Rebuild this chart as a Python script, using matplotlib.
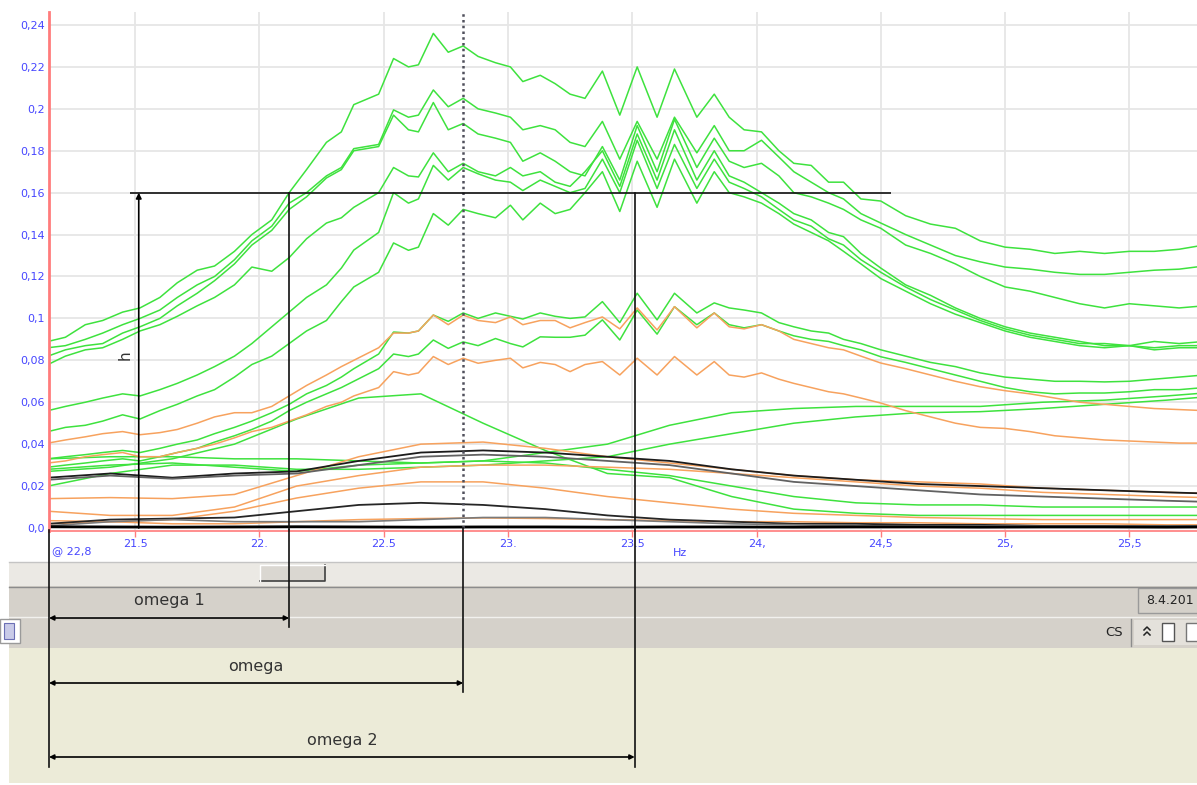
import matplotlib.pyplot as plt
from matplotlib.patches import Rectangle
from matplotlib.transforms import blended_transform_factory

# frequency grid (Hz) for the jagged traces
freq = [21.15, 21.22, 21.30, 21.37, 21.45, 21.52, 21.60, 21.67, 21.75, 21.82, 21.90, 21.97, 22.05,
        22.12, 22.19, 22.27, 22.33, 22.38, 22.48, 22.54, 22.60, 22.64, 22.70, 22.76, 22.82,
        22.88, 22.95, 23.01, 23.06, 23.13, 23.19, 23.25, 23.31, 23.38, 23.45, 23.52,
        23.60, 23.67, 23.76, 23.83, 23.89, 23.95, 24.02, 24.09, 24.15, 24.22, 24.29, 24.35, 24.42,
        24.50, 24.60, 24.70, 24.80, 24.90, 25.00, 25.10, 25.20, 25.30, 25.40, 25.50, 25.60, 25.70, 25.80]

green_1 = [0.089, 0.091, 0.097, 0.099, 0.103, 0.105, 0.110, 0.117, 0.123, 0.125, 0.132, 0.140, 0.147,
           0.160, 0.171, 0.184, 0.189, 0.202, 0.207, 0.224, 0.220, 0.221, 0.236, 0.227, 0.230,
           0.225, 0.222, 0.220, 0.213, 0.216, 0.212, 0.207, 0.205, 0.218, 0.197, 0.220,
           0.196, 0.219, 0.196, 0.207, 0.196, 0.190, 0.189, 0.180, 0.174, 0.173, 0.165, 0.165, 0.157,
           0.156, 0.149, 0.145, 0.143, 0.137, 0.134, 0.133, 0.131, 0.132, 0.131, 0.132, 0.132, 0.133, 0.135]
green_2 = [0.086, 0.087, 0.090, 0.093, 0.097, 0.100, 0.104, 0.110, 0.116, 0.120, 0.128, 0.137, 0.144,
           0.155, 0.160, 0.168, 0.172, 0.181, 0.183, 0.1995, 0.196, 0.197, 0.209, 0.201, 0.205,
           0.200, 0.198, 0.196, 0.190, 0.192, 0.190, 0.184, 0.182, 0.194, 0.176, 0.194,
           0.176, 0.196, 0.179, 0.192, 0.180, 0.180, 0.185, 0.177, 0.170, 0.165, 0.160, 0.157, 0.150,
           0.1455, 0.140, 0.135, 0.130, 0.127, 0.1245, 0.1235, 0.122, 0.121, 0.121, 0.122, 0.123, 0.1235, 0.125]
green_3 = [0.082, 0.085, 0.087, 0.088, 0.093, 0.096, 0.100, 0.106, 0.112, 0.118, 0.126, 0.135, 0.142,
           0.152, 0.158, 0.167, 0.171, 0.180, 0.182, 0.197, 0.190, 0.189, 0.203, 0.190, 0.193,
           0.188, 0.186, 0.184, 0.175, 0.179, 0.175, 0.170, 0.168, 0.182, 0.166, 0.192,
           0.170, 0.195, 0.172, 0.186, 0.175, 0.172, 0.174, 0.168, 0.160, 0.158, 0.155, 0.152, 0.147,
           0.143, 0.135, 0.131, 0.126, 0.120, 0.115, 0.113, 0.110, 0.107, 0.105, 0.107, 0.106, 0.105, 0.106]
green_4 = [0.078, 0.082, 0.085, 0.086, 0.090, 0.094, 0.097, 0.101, 0.106, 0.110, 0.116, 0.1245, 0.1225,
           0.129, 0.138, 0.1455, 0.148, 0.153, 0.160, 0.172, 0.168, 0.1675, 0.179, 0.170, 0.174,
           0.170, 0.168, 0.172, 0.168, 0.170, 0.165, 0.163, 0.170, 0.180, 0.163, 0.188,
           0.166, 0.190, 0.166, 0.180, 0.168, 0.165, 0.160, 0.155, 0.150, 0.147, 0.141, 0.139, 0.131,
           0.124, 0.116, 0.111, 0.105, 0.100, 0.096, 0.093, 0.091, 0.089, 0.087, 0.087, 0.089, 0.088, 0.089]
green_5 = [0.056, 0.058, 0.060, 0.062, 0.064, 0.063, 0.066, 0.069, 0.073, 0.077, 0.082, 0.088, 0.096,
           0.103, 0.110, 0.116, 0.124, 0.1326, 0.141, 0.160, 0.155, 0.157, 0.173, 0.166, 0.172,
           0.169, 0.166, 0.165, 0.161, 0.166, 0.163, 0.160, 0.162, 0.176, 0.160, 0.185,
           0.162, 0.183, 0.162, 0.176, 0.165, 0.162, 0.158, 0.152, 0.147, 0.144, 0.138, 0.135, 0.128,
           0.122, 0.115, 0.109, 0.104, 0.099, 0.095, 0.092, 0.090, 0.088, 0.088, 0.087, 0.086, 0.087, 0.087]
green_6 = [0.046, 0.048, 0.049, 0.051, 0.054, 0.052, 0.056, 0.059, 0.063, 0.066, 0.072, 0.078, 0.082,
           0.088, 0.094, 0.099, 0.108, 0.115, 0.122, 0.136, 0.1325, 0.134, 0.150, 0.1445, 0.152,
           0.150, 0.148, 0.154, 0.147, 0.155, 0.150, 0.152, 0.160, 0.170, 0.151, 0.175,
           0.153, 0.176, 0.155, 0.170, 0.160, 0.158, 0.155, 0.150, 0.145, 0.141, 0.137, 0.132, 0.126,
           0.119, 0.113, 0.107, 0.102, 0.098, 0.094, 0.091, 0.089, 0.087, 0.086, 0.087, 0.085, 0.086, 0.086]
green_7 = [0.033, 0.034, 0.035, 0.036, 0.037, 0.036, 0.038, 0.040, 0.042, 0.045, 0.048, 0.051, 0.055,
           0.059, 0.064, 0.068, 0.072, 0.076, 0.083, 0.0935, 0.093, 0.094, 0.1016, 0.0986, 0.1026,
           0.100, 0.1026, 0.101, 0.0997, 0.1026, 0.101, 0.100, 0.1007, 0.108, 0.098, 0.112,
           0.0993, 0.112, 0.1026, 0.1074, 0.105, 0.104, 0.1026, 0.098, 0.096, 0.094, 0.093, 0.090, 0.088,
           0.085, 0.082, 0.079, 0.077, 0.074, 0.072, 0.071, 0.070, 0.070, 0.0697, 0.070, 0.071, 0.072, 0.073]
green_8 = [0.029, 0.030, 0.031, 0.032, 0.033, 0.032, 0.034, 0.036, 0.038, 0.041, 0.044, 0.047, 0.051,
           0.056, 0.060, 0.064, 0.067, 0.070, 0.076, 0.083, 0.0818, 0.083, 0.0897, 0.0857, 0.0888,
           0.087, 0.0904, 0.088, 0.0864, 0.0912, 0.091, 0.091, 0.092, 0.0993, 0.0897, 0.104,
           0.0925, 0.1056, 0.097, 0.1026, 0.097, 0.0955, 0.097, 0.094, 0.0917, 0.090, 0.089, 0.087, 0.085,
           0.0817, 0.079, 0.076, 0.073, 0.070, 0.067, 0.065, 0.064, 0.0644, 0.0644, 0.065, 0.066, 0.066, 0.067]
orange_1 = [0.0405, 0.042, 0.0435, 0.045, 0.046, 0.0445, 0.0455, 0.047, 0.050, 0.053, 0.055, 0.055, 0.058,
            0.063, 0.068, 0.073, 0.077, 0.080, 0.086, 0.093, 0.093, 0.094, 0.1016, 0.097, 0.1016,
            0.099, 0.098, 0.1007, 0.097, 0.099, 0.099, 0.0955, 0.098, 0.1007, 0.095, 0.105,
            0.0945, 0.1056, 0.0955, 0.1026, 0.096, 0.095, 0.097, 0.094, 0.090, 0.088, 0.086, 0.085, 0.082,
            0.0787, 0.076, 0.073, 0.070, 0.0674, 0.0655, 0.064, 0.062, 0.060, 0.059, 0.058, 0.057, 0.0565, 0.056]
orange_2 = [0.031, 0.032, 0.034, 0.035, 0.036, 0.034, 0.034, 0.036, 0.038, 0.040, 0.043, 0.046, 0.048,
            0.051, 0.054, 0.058, 0.060, 0.063, 0.067, 0.0746, 0.073, 0.074, 0.0818, 0.078, 0.081,
            0.0786, 0.080, 0.081, 0.0764, 0.079, 0.078, 0.0746, 0.078, 0.0794, 0.073, 0.081,
            0.073, 0.0818, 0.073, 0.0794, 0.073, 0.072, 0.074, 0.071, 0.069, 0.067, 0.065, 0.064, 0.062,
            0.0596, 0.056, 0.053, 0.050, 0.048, 0.0475, 0.046, 0.044, 0.043, 0.042, 0.0415, 0.041, 0.0405, 0.0405]

# coarser grid for the smooth low traces
freq_low = [21.15, 21.4, 21.65, 21.9, 22.15, 22.4, 22.65, 22.9, 23.15, 23.4,
            23.65, 23.9, 24.15, 24.4, 24.65, 24.9, 25.15, 25.4, 25.65, 25.8]

green_9 = [0.027, 0.029, 0.033, 0.040, 0.052, 0.062, 0.064, 0.050, 0.037, 0.026,
           0.024, 0.015, 0.009, 0.007, 0.006, 0.006, 0.006, 0.006, 0.006, 0.006]
green_10 = [0.033, 0.034, 0.034, 0.033, 0.033, 0.032, 0.031, 0.032, 0.036, 0.040,
            0.049, 0.055, 0.057, 0.058, 0.058, 0.058, 0.060, 0.061, 0.063, 0.0644]
green_11 = [0.020, 0.026, 0.030, 0.030, 0.028, 0.028, 0.029, 0.030, 0.032, 0.034,
            0.040, 0.045, 0.050, 0.053, 0.055, 0.0555, 0.057, 0.059, 0.061, 0.0625]
green_12 = [0.028, 0.030, 0.031, 0.029, 0.027, 0.030, 0.031, 0.032, 0.031, 0.028,
            0.025, 0.020, 0.015, 0.012, 0.011, 0.011, 0.010, 0.010, 0.010, 0.010]
orange_3 = [0.014, 0.0145, 0.014, 0.016, 0.025, 0.034, 0.040, 0.041, 0.038, 0.034,
            0.031, 0.028, 0.025, 0.023, 0.022, 0.021, 0.019, 0.018, 0.017, 0.0165]
orange_4 = [0.008, 0.006, 0.006, 0.010, 0.020, 0.025, 0.029, 0.030, 0.030, 0.029,
            0.028, 0.026, 0.024, 0.022, 0.020, 0.019, 0.017, 0.016, 0.015, 0.0145]
orange_5 = [0.0035, 0.003, 0.004, 0.008, 0.0143, 0.019, 0.022, 0.022, 0.019, 0.015,
            0.012, 0.009, 0.007, 0.006, 0.005, 0.0045, 0.004, 0.004, 0.004, 0.004]
orange_6 = [0.002, 0.003, 0.002, 0.002, 0.003, 0.004, 0.0045, 0.0048, 0.0045, 0.004,
            0.0035, 0.003, 0.003, 0.0025, 0.0025, 0.002, 0.002, 0.002, 0.0015, 0.0015]
dark_1 = [0.024, 0.026, 0.024, 0.026, 0.027, 0.032, 0.036, 0.037, 0.036, 0.034,
          0.032, 0.028, 0.025, 0.023, 0.021, 0.020, 0.019, 0.018, 0.017, 0.0165]
dark_2 = [0.023, 0.025, 0.0235, 0.025, 0.026, 0.030, 0.034, 0.035, 0.034, 0.032,
          0.030, 0.026, 0.022, 0.020, 0.018, 0.016, 0.015, 0.014, 0.013, 0.0125]
dark_3 = [0.002, 0.004, 0.0045, 0.005, 0.008, 0.011, 0.012, 0.011, 0.009, 0.006,
          0.004, 0.003, 0.002, 0.002, 0.0015, 0.0015, 0.001, 0.001, 0.001, 0.001]
dark_4 = [0.001, 0.003, 0.004, 0.003, 0.003, 0.003, 0.004, 0.005, 0.005, 0.004,
          0.003, 0.002, 0.0015, 0.001, 0.001, 0.001, 0.001, 0.001, 0.001, 0.001]
dark_5 = [0.0006, 0.0005, 0.0004, 0.0005, 0.0006, 0.0005, 0.0004, 0.0005, 0.0005, 0.0004,
          0.0005, 0.0005, 0.0004, 0.0005, 0.0005, 0.0004, 0.0005, 0.0005, 0.0004, 0.0005]

xticks = [21.5, 22.0, 22.5, 23.0, 23.5, 24.0, 24.5, 25.0, 25.5]
xtick_labels = ["21.5", "22.", "22.5", "23.", "23.5", "24,", "24,5", "25,", "25,5"]
yticks = [0.0, 0.02, 0.04, 0.06, 0.08, 0.1, 0.12, 0.14, 0.16, 0.18, 0.2, 0.22, 0.24]
ytick_labels = ["0,0", "0,02", "0,04", "0,06", "0,08", "0,1", "0,12", "0,14", "0,16",
                "0,18", "0,2", "0,22", "0,24"]

cursor_hz = 22.82
h_level = 0.16
omega_1 = 22.12
omega_2 = 23.51
h_pos = 21.515

W, H = 1197, 785
BLUE = "#4646ff"
RED = "#ff7c7c"
GREEN = "#3ee23e"
ORANGE = "#f7a25e"

fig = plt.figure(figsize=(W / 100, H / 100), dpi=100)
fig.patch.set_facecolor("white")

# window chrome under the chart, drawn in pixel coordinates
bg = fig.add_axes([0, 0, 1, 1], zorder=0)
bg.set_xlim(0, W)
bg.set_ylim(H, 0)
bg.axis("off")
bg.add_patch(Rectangle((9, 562), W - 9, 24, fc="#ebe9e4", ec="none"))
bg.plot([9, W], [562, 562], color="#c4c4c4", lw=1)
bg.add_patch(Rectangle((260, 565), 65, 16, fc="#dad7d1", ec="none"))
bg.plot([260, 325, 325], [581, 581, 565], color="#404040", lw=1.2)
bg.plot([260, 260, 325], [581, 565, 565], color="white", lw=1)
bg.add_patch(Rectangle((9, 586), W - 9, 62, fc="#d5d1ca", ec="none"))
bg.plot([9, W], [586.5, 586.5], color="#8c8c8c", lw=1)
bg.plot([9, W], [617, 617], color="#f2f1ee", lw=1)
bg.add_patch(Rectangle((1138, 588), 62, 25, fc="#d5d1ca", ec="#9a9a9a", lw=1))
bg.text(1146, 601, "8.4.201", fontsize=9, color="#222222", va="center", ha="left")
bg.text(1114, 633, "CS", fontsize=9.5, color="#222222", va="center", ha="center")
bg.plot([1131, 1131], [619, 646], color="#8c8c8c", lw=1)
bg.add_patch(Rectangle((1134, 620), 63, 25, fc="#e4e1db", ec="none"))
# double chevron button and two small icons
bg.plot([1144, 1147, 1150], [630, 627, 630], color="#222222", lw=1.1)
bg.plot([1144, 1147, 1150], [635, 632, 635], color="#222222", lw=1.1)
bg.add_patch(Rectangle((1162, 623), 12, 18, fc="white", ec="#555555", lw=1))
bg.add_patch(Rectangle((1186, 623), 12, 18, fc="white", ec="#777777", lw=1))
bg.add_patch(Rectangle((0, 619), 20, 24, fc="white", ec="#9a9a9a", lw=1))
bg.add_patch(Rectangle((4, 623), 10, 16, fc="#c9cbe8", ec="#6b6fb5", lw=0.8))
bg.add_patch(Rectangle((9, 648), W - 9, 135, fc="#ecebd8", ec="none"))

# chart area
y_low, y_high = -0.0012, 0.2462
x_low = 21.154
x_high = x_low + 1148 / 248.6
ax = fig.add_axes([49 / W, (H - 530.5) / H, (W - 49) / W, (530.5 - 12) / H], zorder=1)
ax.set_xlim(x_low, x_high)
ax.set_ylim(y_low, y_high)
ax.set_facecolor("white")
ax.set_axisbelow(True)
ax.grid(True, color="#e6e6e6", lw=1.3)

for ys in [green_1, green_2, green_3, green_4, green_5, green_6, green_7, green_8]:
    ax.plot(freq, ys, color=GREEN, lw=1.1)
for ys in [green_9, green_10, green_11, green_12]:
    ax.plot(freq_low, ys, color=GREEN, lw=1.1)
for ys in [orange_1, orange_2]:
    ax.plot(freq, ys, color=ORANGE, lw=1.1)
for ys in [orange_3, orange_4, orange_5, orange_6]:
    ax.plot(freq_low, ys, color=ORANGE, lw=1.1)
ax.plot(freq_low, dark_1, color="#1c1c1c", lw=1.3)
ax.plot(freq_low, dark_2, color="#626262", lw=1.3)
ax.plot(freq_low, dark_3, color="#262626", lw=1.3)
ax.plot(freq_low, dark_4, color="#7a7a7a", lw=1.2)
ax.plot(freq_low, dark_5, color="black", lw=2)

ax.set_xticks(xticks)
ax.set_xticklabels(xtick_labels)
ax.set_yticks(yticks)
ax.set_yticklabels(ytick_labels)
ax.tick_params(axis="x", colors=RED, length=4, width=1, pad=2, labelsize=8, labelcolor=BLUE)
ax.tick_params(axis="y", length=0, pad=3, labelsize=8, labelcolor=BLUE)
for side in ["top", "right"]:
    ax.spines[side].set_visible(False)
ax.spines["left"].set_color(RED)
ax.spines["left"].set_linewidth(2)
ax.spines["bottom"].set_color(RED)
ax.spines["bottom"].set_linewidth(1.2)

# cursor, level line and the h arrow
ax.plot([cursor_hz, cursor_hz], [0, y_high], color="#50505c", lw=1.8, ls=(0, (1, 1.3)))
ax.hlines(h_level, 21.48, 24.54, color="#111111", lw=1.2)
ax.plot([omega_1, omega_1], [h_level, y_low], color="#111111", lw=1.2, clip_on=False)
ax.plot([omega_2, omega_2], [h_level, y_low], color="#111111", lw=1.2, clip_on=False)
ax.annotate("", xy=(h_pos, h_level), xytext=(h_pos, 0),
            arrowprops=dict(arrowstyle="-|>", color="black", lw=1.2, mutation_scale=8,
                            shrinkA=0, shrinkB=0))
ax.text(21.46, 0.0825, "h", rotation=90, fontsize=11, color="#333333", ha="center", va="center")

# dimension lines below the chart
fg = fig.add_axes([0, 0, 1, 1], zorder=2)
fg.set_xlim(0, W)
fg.set_ylim(H, 0)
fg.axis("off")
trans = blended_transform_factory(ax.transData, fg.transData)

fg.text(52, 551, "@ " + f"{cursor_hz:.1f}".replace(".", ","), fontsize=8, color=BLUE,
        va="center", ha="left")
fg.text(680, 553, "Hz", fontsize=8, color=BLUE, va="center", ha="center")

fg.plot([x_low, x_low], [530, 767], color="#111111", lw=1.2, transform=trans)
fg.plot([omega_1, omega_1], [530, 627], color="#111111", lw=1.2, transform=trans)
fg.plot([cursor_hz, cursor_hz], [528, 692], color="#111111", lw=1.2, transform=trans)
fg.plot([omega_2, omega_2], [530, 767], color="#111111", lw=1.2, transform=trans)

for end, y_arrow, y_label, label in [(omega_1, 618, 600, "omega 1"),
                                     (cursor_hz, 683, 666, "omega"),
                                     (omega_2, 757, 740, "omega 2")]:
    fg.annotate("", xy=(end, y_arrow), xytext=(x_low, y_arrow), xycoords=trans, textcoords=trans,
                arrowprops=dict(arrowstyle="<|-|>", color="black", lw=1.2, mutation_scale=7,
                                shrinkA=0, shrinkB=0))
    fg.text((x_low + end) / 2, y_label, label, transform=trans, fontsize=11.5, color="#333333",
            ha="center", va="center")

fig.savefig("out.png", dpi=100)
